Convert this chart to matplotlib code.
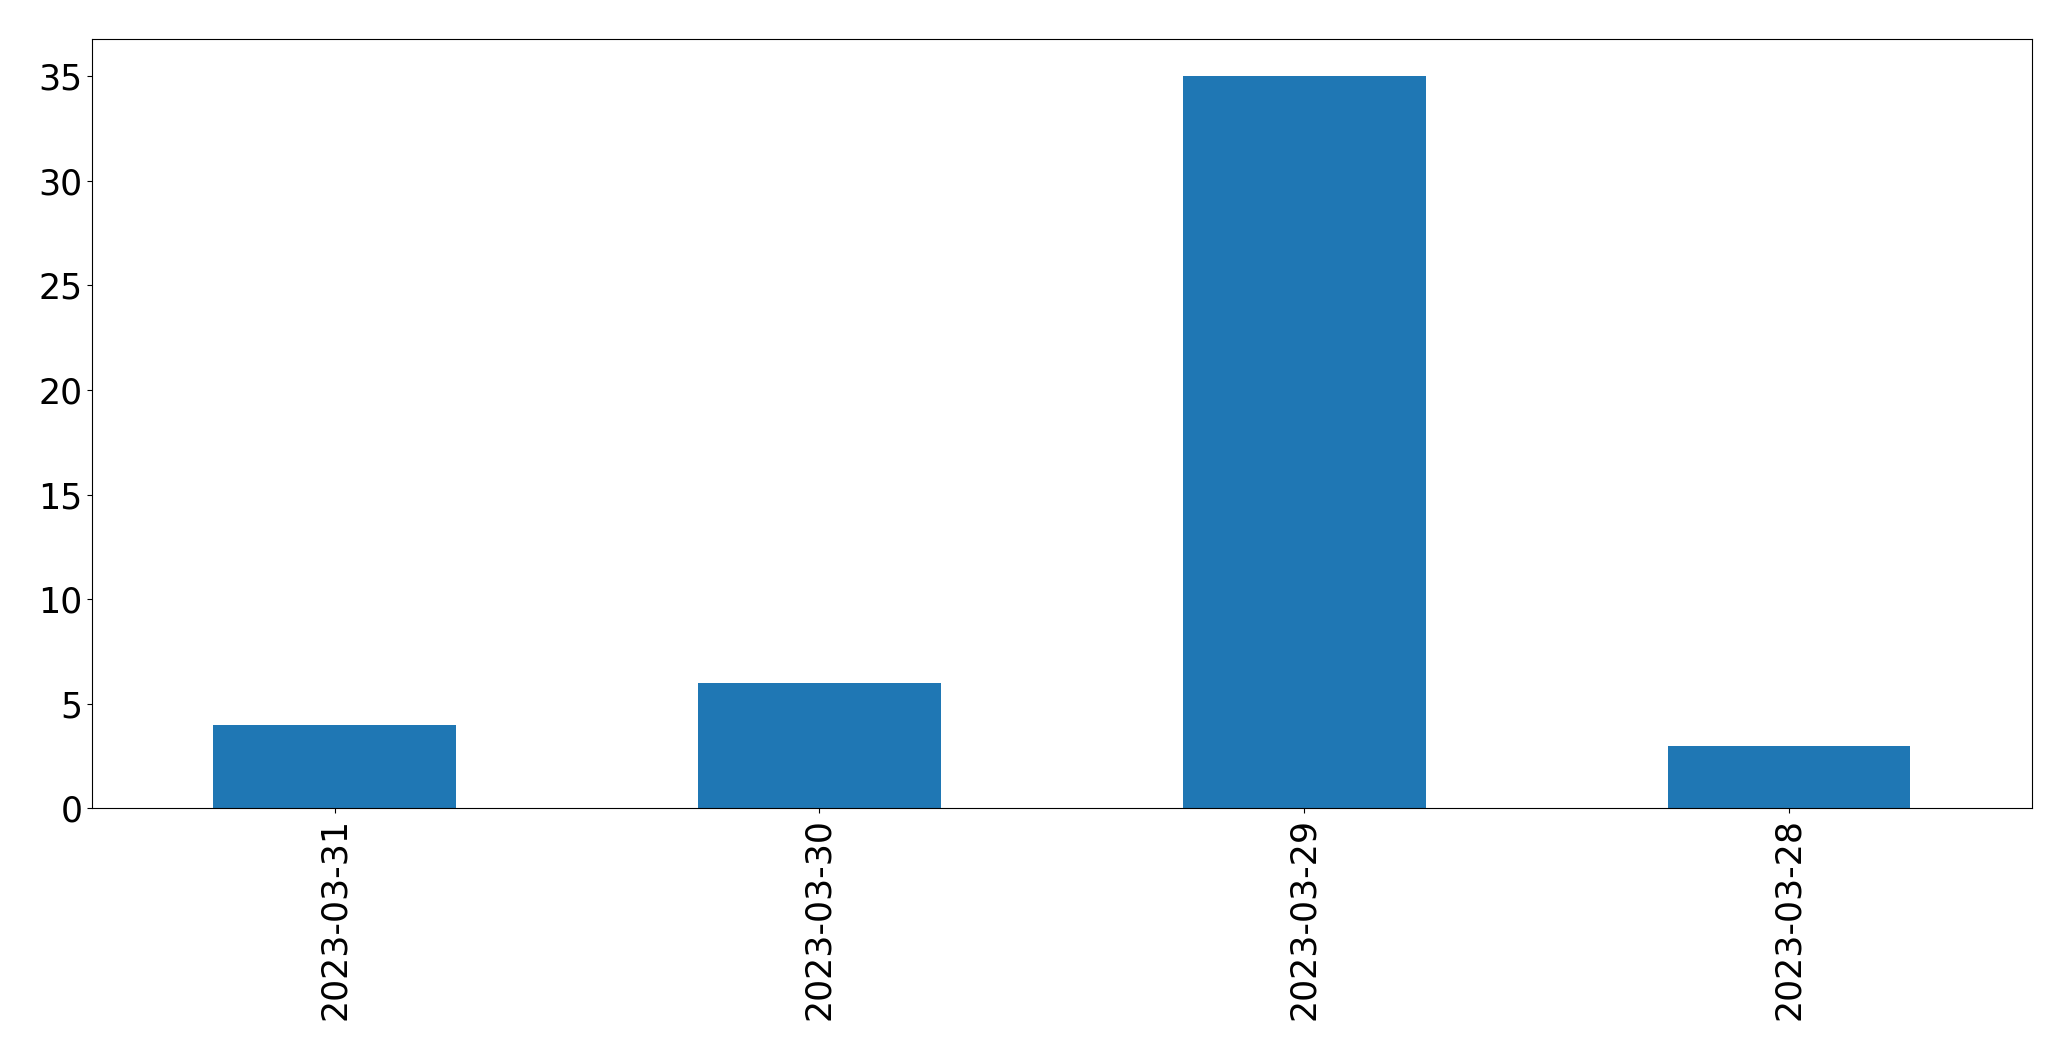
import pandas as pd
import matplotlib.pyplot as plt

# counts per day
dates = ['2023-03-31', '2023-03-30', '2023-03-29', '2023-03-28']
counts = [4, 6, 35, 3]

data = pd.Series(counts, index=dates)

fig = plt.figure(figsize=(20.71, 10.61), dpi=100)
ax = data.plot(kind='bar', color='#1f77b4')
ax.tick_params(axis='both', labelsize=25)
plt.subplots_adjust(left=0.0445, right=0.981, top=0.963, bottom=0.238)

plt.savefig('out.png', dpi=100)
